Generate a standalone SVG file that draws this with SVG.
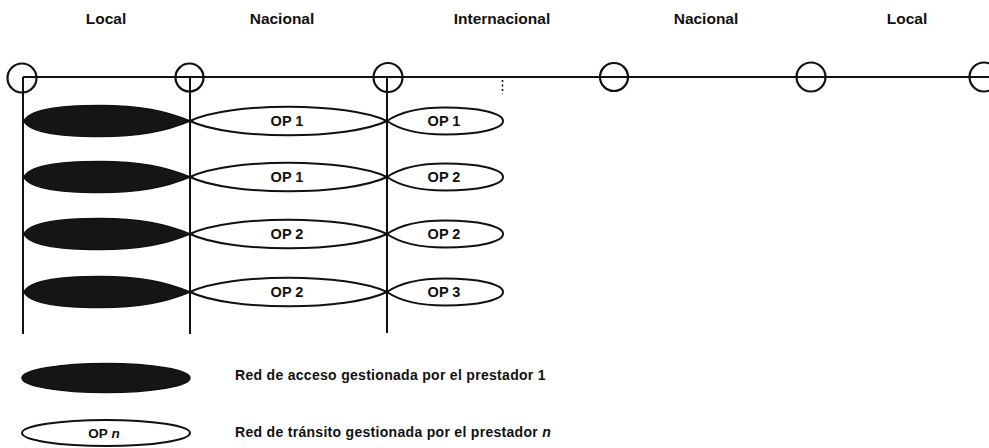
<svg xmlns="http://www.w3.org/2000/svg" width="989" height="448" viewBox="0 0 989 448">
<style>
.t{font-family:"Liberation Sans",Arial,sans-serif;font-weight:bold;fill:#111}
.h{font-size:15.5px;text-anchor:middle}
.op{font-size:14.5px;text-anchor:middle}
.lg{font-size:14px;letter-spacing:0.3px}
.ln{stroke:#111;stroke-width:2;fill:none}
.nd{stroke:#111;stroke-width:2.2;fill:none}
.blk{fill:#151515;stroke:#111;stroke-width:1.5}
.wht{fill:#fff;stroke:#111;stroke-width:2}
</style>
<rect width="989" height="448" fill="#fff"/>
<g id="headers">
<text class="t h" x="106" y="24">Local</text>
<text class="t h" x="282" y="24">Nacional</text>
<text class="t h" x="502" y="24">Internacional</text>
<text class="t h" x="706" y="24">Nacional</text>
<text class="t h" x="907" y="24">Local</text>
</g>
<g id="connectors">
<line class="ln" x1="23" y1="77" x2="989" y2="77"/>
<line class="ln" x1="23" y1="77" x2="23" y2="334"/>
<line class="ln" x1="190" y1="77" x2="190" y2="334"/>
<line class="ln" x1="387" y1="77" x2="387" y2="333"/>
<line x1="502.5" y1="80" x2="502.5" y2="94" stroke="#111" stroke-width="1.6" stroke-dasharray="2,2.5"/>
</g>
<g id="node-1"><circle class="nd" cx="22" cy="78" r="14.5"/></g>
<g id="node-2"><circle class="nd" cx="189.5" cy="77.5" r="14"/></g>
<g id="node-3"><circle class="nd" cx="388" cy="77.5" r="14.5"/></g>
<g id="node-4"><circle class="nd" cx="614" cy="77" r="14"/></g>
<g id="node-5"><circle class="nd" cx="811" cy="77" r="14.5"/></g>
<g id="node-6"><circle class="nd" cx="984" cy="77" r="14.5"/></g>
<defs>
<path id="blk" d="M24,0 C29,-11 58,-15.5 100,-15.5 C140,-15.5 166,-10 190,0 C166,10 140,15.5 100,15.5 C58,15.5 29,11 24,0 Z"/>
<path id="nac" d="M190,0 C230,-19 347,-19 387,0 C347,19 230,19 190,0 Z"/>
<path id="int" d="M387,0 C400,-9 420,-13.5 445,-13.5 C478,-13.5 503,-8 503,0 C503,8 478,13.5 445,13.5 C420,13.5 400,9 387,0 Z"/>
</defs>
<g id="row-1">
<use href="#blk" class="blk" y="121"/>
<use href="#nac" class="wht" y="121"/>
<use href="#int" class="wht" y="121"/>
<text class="t op" x="287" y="126">OP 1</text>
<text class="t op" x="444" y="126">OP 1</text>
</g>
<g id="row-2">
<use href="#blk" class="blk" y="177"/>
<use href="#nac" class="wht" y="177"/>
<use href="#int" class="wht" y="177"/>
<text class="t op" x="287" y="182">OP 1</text>
<text class="t op" x="444" y="182">OP 2</text>
</g>
<g id="row-3">
<use href="#blk" class="blk" y="234"/>
<use href="#nac" class="wht" y="234"/>
<use href="#int" class="wht" y="234"/>
<text class="t op" x="287" y="239">OP 2</text>
<text class="t op" x="444" y="239">OP 2</text>
</g>
<g id="row-4">
<use href="#blk" class="blk" y="292"/>
<use href="#nac" class="wht" y="292"/>
<use href="#int" class="wht" y="292"/>
<text class="t op" x="287" y="297">OP 2</text>
<text class="t op" x="444" y="297">OP 3</text>
</g>
<g id="legend-access">
<ellipse class="blk" cx="106" cy="378" rx="84" ry="14.5"/>
<text class="t lg" x="235" y="380">Red de acceso gestionada por el prestador 1</text>
</g>
<g id="legend-transit">
<ellipse class="wht" cx="106" cy="433" rx="84" ry="13"/>
<text class="t op" x="104" y="438" style="font-size:13.5px">OP <tspan font-style="italic">n</tspan></text>
<text class="t lg" x="235" y="437">Red de tránsito gestionada por el prestador <tspan font-style="italic">n</tspan></text>
</g>
</svg>
